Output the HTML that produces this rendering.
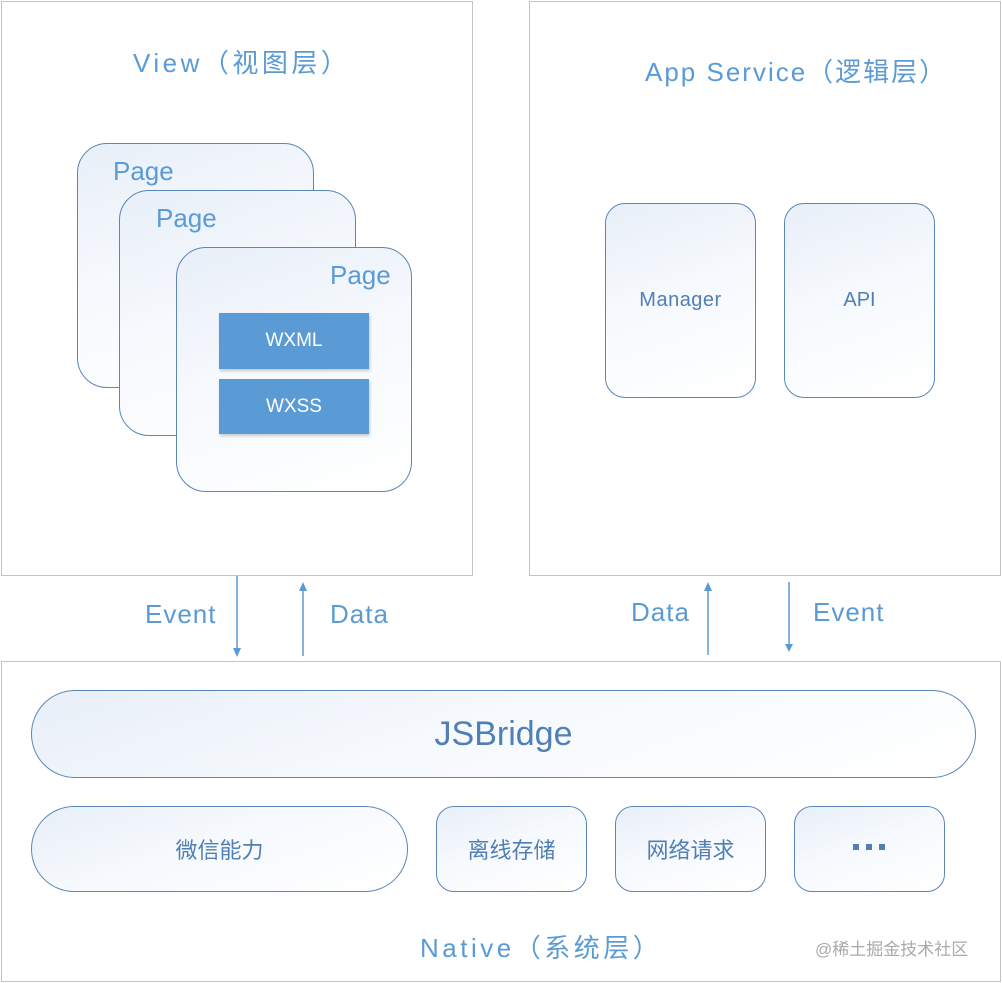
<!DOCTYPE html>
<html><head><meta charset="utf-8"><style>
*{margin:0;padding:0;box-sizing:border-box}
body{width:1002px;height:983px;background:#fff;position:relative;overflow:hidden;font-family:"Liberation Sans","Noto Sans CJK SC",sans-serif;color:#5b9bd5}
.a{position:absolute}
.outer{border:1px solid #c3c3c3;background:#fff}
.rb{border:1px solid #5b86b8;background:linear-gradient(160deg,#e8eff8 0%,#f6f9fd 45%,#fff 100%);display:flex;align-items:center;justify-content:center;color:#4f7fb4}
.blue{background:#5b9bd5;color:#fff;display:flex;align-items:center;justify-content:center;font-size:19px;box-shadow:1px 2px 3px rgba(0,0,0,.2)}
.t{position:absolute;white-space:nowrap;font-size:26px}
</style></head><body>
<div class="a outer" style="left:1px;top:1px;width:472px;height:575px"></div>
<div class="a outer" style="left:529px;top:1px;width:472px;height:575px"></div>
<div class="a outer" style="left:1px;top:661px;width:1000px;height:321px"></div>

<div class="t" style="left:133px;top:43px;letter-spacing:3.5px">View（视图层）</div>
<div class="t" style="left:645px;top:52px;letter-spacing:2px">App Service（逻辑层）</div>

<div class="a rb" style="left:77px;top:143px;width:237px;height:245px;border-radius:30px"></div>
<div class="t" style="left:113px;top:156px;color:#5b9bd5">Page</div>
<div class="a rb" style="left:119px;top:190px;width:237px;height:246px;border-radius:30px"></div>
<div class="t" style="left:156px;top:203px;color:#5b9bd5">Page</div>
<div class="a rb" style="left:176px;top:247px;width:236px;height:245px;border-radius:30px"></div>
<div class="t" style="left:330px;top:260px;color:#5b9bd5">Page</div>
<div class="a blue" style="left:219px;top:313px;width:150px;height:56px">WXML</div>
<div class="a blue" style="left:219px;top:379px;width:150px;height:55px">WXSS</div>

<div class="a rb" style="left:605px;top:203px;width:151px;height:195px;border-radius:20px;font-size:20px;letter-spacing:0.5px">Manager</div>
<div class="a rb" style="left:784px;top:203px;width:151px;height:195px;border-radius:20px;font-size:20px">API</div>

<div class="a rb" style="left:31px;top:690px;width:945px;height:88px;border-radius:44px;font-size:34px;color:#4f7fb4">JSBridge</div>
<div class="a rb" style="left:31px;top:806px;width:377px;height:86px;border-radius:43px;font-size:22px">微信能力</div>
<div class="a rb" style="left:436px;top:806px;width:151px;height:86px;border-radius:18px;font-size:22px">离线存储</div>
<div class="a rb" style="left:615px;top:806px;width:151px;height:86px;border-radius:18px;font-size:22px">网络请求</div>
<div class="a rb" style="left:794px;top:806px;width:151px;height:86px;border-radius:18px"></div>

<svg class="a" style="left:0;top:0" width="1002" height="983">
<g stroke="#5b9bd5" stroke-width="1.5" fill="#5b9bd5">
<line x1="237" y1="576" x2="237" y2="650"/><polygon points="233,648 241,648 237,657" stroke="none"/>
<line x1="303" y1="590" x2="303" y2="656"/><polygon points="299,591 307,591 303,582" stroke="none"/>
<line x1="708" y1="590" x2="708" y2="655"/><polygon points="704,591 712,591 708,582" stroke="none"/>
<line x1="789" y1="582" x2="789" y2="646"/><polygon points="785,644 793,644 789,652" stroke="none"/>
</g>
<g fill="#4f7fb4"><rect x="853" y="844" width="6" height="6"/><rect x="866" y="844" width="6" height="6"/><rect x="879" y="844" width="6" height="6"/></g>
</svg>
<div class="t" style="left:145px;top:599px;letter-spacing:1px">Event</div>
<div class="t" style="left:330px;top:599px;letter-spacing:1px">Data</div>
<div class="t" style="left:631px;top:597px;letter-spacing:1px">Data</div>
<div class="t" style="left:813px;top:597px;letter-spacing:1px">Event</div>

<div class="t" style="left:420px;top:928px;letter-spacing:3.5px">Native（系统层）</div>
<div class="t" style="left:815px;top:935px;font-size:17px;color:#aaa">@稀土掘金技术社区</div>
</body></html>
